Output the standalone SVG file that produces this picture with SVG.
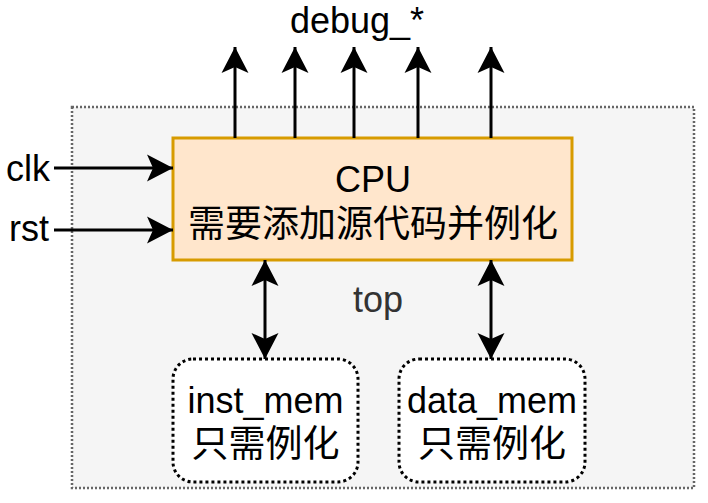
<svg xmlns="http://www.w3.org/2000/svg" width="708" height="503" viewBox="0 0 708 503">
<style>
.t{font-family:"Liberation Sans","Noto Sans CJK SC",Arial,sans-serif;font-size:36px;fill:#000;text-anchor:middle}
.cjk{font-size:37px}
.c{stroke:#000;stroke-width:3;fill:none}
.mem{fill:#fff;stroke:#000;stroke-width:3;stroke-dasharray:3 3}
</style>
<defs>
<marker id="ah" markerUnits="userSpaceOnUse" markerWidth="30" markerHeight="30" viewBox="-27 -15 30 30" refX="0" refY="0" orient="auto-start-reverse">
<path d="M0,0 L-26,-13.5 L-20,0 L-26,13.5 Z" fill="#000"/>
</marker>
</defs>
<rect width="708" height="503" fill="#fff"/>
<g id="top">
<rect x="72" y="107" width="622" height="381" fill="#f5f5f5" stroke="#666" stroke-width="2.5" stroke-dasharray="2 2"/>
<text x="378" y="312" class="t" style="fill:#333">top</text>
</g>
<g id="cpu">
<rect x="173" y="138" width="399" height="122" fill="#ffe6cc" stroke="#d79b00" stroke-width="3"/>
<text x="373" y="192" class="t">CPU</text>
<text x="373" y="237" class="t cjk">需要添加源代码并例化</text>
</g>
<g id="inst_mem">
<rect x="173" y="359" width="185" height="123" rx="20" ry="20" class="mem"/>
<text x="265.5" y="413" class="t">inst_mem</text>
<text x="265.5" y="457" class="t cjk">只需例化</text>
</g>
<g id="data_mem">
<rect x="399" y="359" width="186" height="123" rx="20" ry="20" class="mem"/>
<text x="492" y="413" class="t">data_mem</text>
<text x="492" y="457" class="t cjk">只需例化</text>
</g>
<g id="labels">
<text x="50" y="181" class="t" style="text-anchor:end">clk</text>
<text x="49" y="241" class="t" style="text-anchor:end">rst</text>
<text x="357" y="33" class="t">debug_*</text>
</g>
<g id="connectors">
<line class="c" x1="54" y1="168" x2="173" y2="168" marker-end="url(#ah)"/>
<line class="c" x1="54" y1="230" x2="173" y2="230" marker-end="url(#ah)"/>
<line class="c" x1="235" y1="138" x2="235" y2="47" marker-end="url(#ah)"/>
<line class="c" x1="295" y1="138" x2="295" y2="47" marker-end="url(#ah)"/>
<line class="c" x1="354" y1="138" x2="354" y2="47" marker-end="url(#ah)"/>
<line class="c" x1="418" y1="138" x2="418" y2="47" marker-end="url(#ah)"/>
<line class="c" x1="491" y1="138" x2="491" y2="47" marker-end="url(#ah)"/>
<line class="c" x1="265" y1="260" x2="265" y2="359" marker-start="url(#ah)" marker-end="url(#ah)"/>
<line class="c" x1="491" y1="260" x2="491" y2="359" marker-start="url(#ah)" marker-end="url(#ah)"/>
</g>
</svg>
